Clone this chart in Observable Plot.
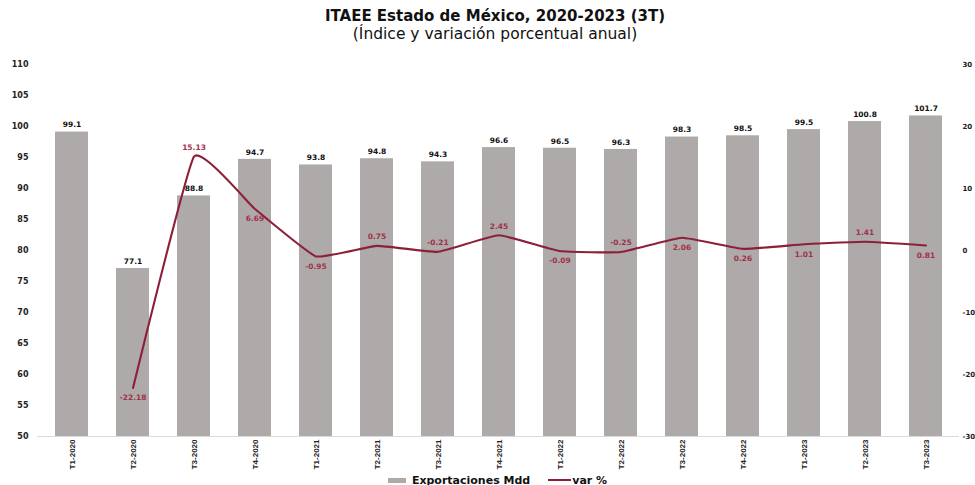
<!DOCTYPE html>
<html>
<head>
<meta charset="utf-8">
<script src="https://cdn.jsdelivr.net/npm/d3@7"></script>
<script src="https://cdn.jsdelivr.net/npm/@observablehq/plot@0.6"></script>
<style>
  html, body { margin: 0; padding: 0; background: #fff; }
  body { width: 975px; height: 485px; overflow: hidden; position: relative; font-family: "DejaVu Sans", "Liberation Sans", sans-serif; color: #111; }
  #head { height: 45px; position: relative; }
  #title { position: absolute; top: 8px; left: 0; width: 990px; text-align: center; font-weight: bold; font-size: 15px; line-height: 17px; }
  #subtitle { position: absolute; top: 25px; left: 0; width: 990px; text-align: center; font-size: 15.5px; line-height: 18px; }
  #chart { height: 428px; }
  #chart svg { overflow: hidden; display: block; }
  #legend { position: absolute; top: 473px; left: 0; width: 975px; height: 14px; display: flex; justify-content: center; align-items: center; font-weight: bold; font-size: 11px; padding-left: 20px; box-sizing: border-box; }
  .sw { display: inline-block; margin-right: 6px; }
  .item { display: inline-flex; align-items: center; margin: 0 9px; }
</style>
</head>
<body>
<div id="head"><div id="title"></div><div id="subtitle"></div></div>
<div id="chart"></div>
<div id="legend"></div>
<script>
// ---- Data ----
const periods = ["T1-2020","T2-2020","T3-2020","T4-2020","T1-2021","T2-2021","T3-2021","T4-2021","T1-2022","T2-2022","T3-2022","T4-2022","T1-2023","T2-2023","T3-2023"];
const exportaciones = [99.1, 77.1, 88.8, 94.7, 93.8, 94.8, 94.3, 96.6, 96.5, 96.3, 98.3, 98.5, 99.5, 100.8, 101.7];
const variacion = [null, -22.18, 15.13, 6.69, -0.95, 0.75, -0.21, 2.45, -0.09, -0.25, 2.06, 0.26, 1.01, 1.41, 0.81];
const leftTicks = [50, 55, 60, 65, 70, 75, 80, 85, 90, 95, 100, 105, 110];
const rightTicks = [-30, -20, -10, 0, 10, 20, 30];
const seriesNames = ["Exportaciones Mdd", "var %"];
const titleText = "ITAEE Estado de México, 2020-2023 (3T)";
const subtitleText = "(Índice y variación porcentual anual)";

// label placement for the line labels (periods whose label sits above the point)
const labelsAbove = new Set(["T3-2020","T2-2021","T3-2021","T4-2021","T2-2022","T2-2023"]);

// ---- Styles ----
const barColor = "#aeaaa9";
const lineColor = "#8e1f38";
const lineLabelColor = "#a3304a";

document.getElementById("title").textContent = titleText;
document.getElementById("subtitle").textContent = subtitleText;

// secondary axis mapping: right domain [-30,30] onto left domain [50,110]
const leftDomain = [leftTicks[0], leftTicks[leftTicks.length - 1]];
const rightDomain = [rightTicks[0], rightTicks[rightTicks.length - 1]];
const toLeft = v => leftDomain[0] + (v - rightDomain[0]) * (leftDomain[1] - leftDomain[0]) / (rightDomain[1] - rightDomain[0]);
const fromLeft = v => rightDomain[0] + (v - leftDomain[0]) * (rightDomain[1] - rightDomain[0]) / (leftDomain[1] - leftDomain[0]);

const rows = periods.map((p, i) => ({ p, v: exportaciones[i], r: variacion[i] }));
const lineRows = rows.filter(d => d.r != null).map(d => ({ ...d, ry: toLeft(d.r) }));

const font = "DejaVu Sans";

const chart = Plot.plot({
  width: 975,
  height: 428,
  marginTop: 19,
  marginBottom: 37,
  marginLeft: 37,
  marginRight: 16,
  style: { fontFamily: font, background: "#fff", overflow: "hidden" },
  x: { domain: periods, paddingInner: 0.46, paddingOuter: 0.25, axis: null },
  y: { domain: leftDomain, axis: null },
  marks: [
    Plot.barY(rows, { x: "p", y1: leftDomain[0], y2: "v", fill: barColor }),
    Plot.ruleY([leftDomain[0]], { stroke: "#d9d9d9", strokeWidth: 1 }),
    Plot.text(rows, { x: "p", y: "v", text: d => d.v.toFixed(1), dy: -7, fontSize: 7.5, fontWeight: "bold", fill: "#111", fontFamily: font }),
    Plot.line(lineRows, { x: "p", y: "ry", stroke: lineColor, strokeWidth: 2.1, curve: d3.curveCardinal.tension(0.65) }),
    Plot.text(lineRows.filter(d => labelsAbove.has(d.p)), { x: "p", y: "ry", text: d => d.r.toFixed(2), dy: -9, fontSize: 7.5, fontWeight: "bold", fill: lineLabelColor, fontFamily: font }),
    Plot.text(lineRows.filter(d => !labelsAbove.has(d.p)), { x: "p", y: "ry", text: d => d.r.toFixed(2), dy: 10, fontSize: 7.5, fontWeight: "bold", fill: lineLabelColor, fontFamily: font }),
    Plot.axisY(leftTicks, { anchor: "left", tickSize: 0, tickPadding: 9, fontSize: 8, fontWeight: "bold", fill: "#222", fontFamily: font, label: null }),
    Plot.axisY(rightTicks.map(toLeft), { anchor: "right", tickSize: 0, tickPadding: 3, tickFormat: d => String(Math.round(fromLeft(d))), fontSize: 7, fontWeight: "bold", fill: "#222", fontFamily: font, label: null }),
    Plot.axisX(periods, { anchor: "bottom", tickSize: 0, tickPadding: 3, tickRotate: -90, fontSize: 8, fontWeight: "bold", fill: "#222", fontFamily: "Liberation Sans", label: null })
  ]
});
document.getElementById("chart").appendChild(chart);

// ---- Legend ----
const legend = document.getElementById("legend");
const items = [
  { name: seriesNames[0], sw: `<span class="sw" style="width:18px;height:5px;background:${barColor}"></span>` },
  { name: seriesNames[1], sw: `<span class="sw" style="width:23px;height:2px;background:${lineColor};margin-right:1px"></span>` }
];
legend.innerHTML = items.map(it => `<span class="item">${it.sw}<span>${it.name}</span></span>`).join("");
</script>
</body>
</html>
